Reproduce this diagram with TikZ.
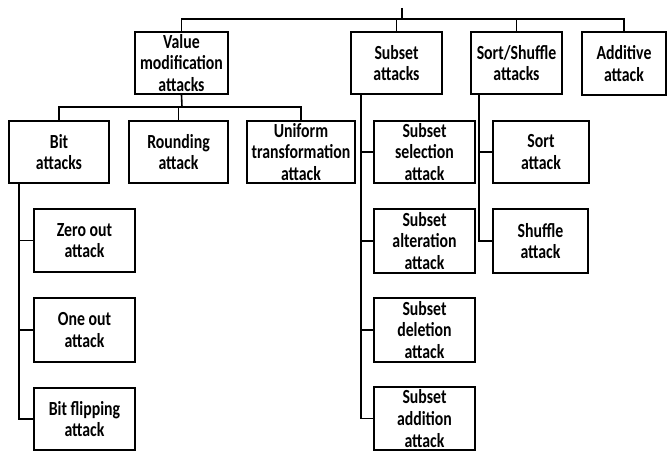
\documentclass[tikz,border=0pt]{standalone}
\usepackage{fontspec}
\setmainfont[FakeStretch=0.79]{Carlito}
\begin{document}
\begin{tikzpicture}[x=1pt,y=-1pt,
  box/.style={draw, line width=1.8pt, inner sep=0pt, align=center,
    font=\bfseries\fontsize{20}{21.7}\selectfont},
  conn/.style={line width=1.6pt}]
\useasboundingbox (0,0) rectangle (667,452);
% top level
\node[box, minimum width=93pt, minimum height=62pt] (vm) at (181.5,63) {Value\\modification\\attacks};
\node[box, minimum width=91pt, minimum height=62pt] (sub) at (396.5,63) {Subset\\attacks};
\node[box, minimum width=91pt, minimum height=62pt] (ss) at (516.5,63) {Sort/Shuffle\\attacks};
\node[box, minimum width=84pt, minimum height=63pt] (add) at (624,63.5) {Additive\\attack};
% value modification children
\node[box, minimum width=100pt, minimum height=62pt] (bit) at (59,152) {Bit\\attacks};
\node[box, minimum width=99pt, minimum height=62pt] (rnd) at (178.5,152) {Rounding\\attack};
\node[box, minimum width=108pt, minimum height=62pt] (uni) at (301,152) {Uniform\\transformation\\attack};
% bit children
\node[box, minimum width=101pt, minimum height=63pt] (zo) at (84.5,240.5) {Zero out\\attack};
\node[box, minimum width=101pt, minimum height=64pt] (oo) at (84.5,330) {One out\\attack};
\node[box, minimum width=101pt, minimum height=62pt] (bf) at (84.5,419) {Bit flipping\\attack};
% subset children
\node[box, minimum width=101pt, minimum height=62pt] (sel) at (424.5,152) {Subset\\selection\\attack};
\node[box, minimum width=101pt, minimum height=64pt] (alt) at (424.5,241) {Subset\\alteration\\attack};
\node[box, minimum width=101pt, minimum height=64pt] (del) at (424.5,330) {Subset\\deletion\\attack};
\node[box, minimum width=101pt, minimum height=63pt] (adn) at (424.5,418.5) {Subset\\addition\\attack};
% sort/shuffle children
\node[box, minimum width=96pt, minimum height=62pt] (srt) at (541,152) {Sort\\attack};
\node[box, minimum width=95pt, minimum height=64pt] (shf) at (540.5,241) {Shuffle\\attack};
% coordinates
\coordinate (root) at (402,8);
\coordinate (bar) at (402,19);
\coordinate (bar2) at (182,107);
\coordinate (bt) at (19,183);
\coordinate (st) at (361,94);
\coordinate (sst) at (479,94);
% connectors
\draw[conn] (root) -- (bar);
\draw[conn] (vm.north) |- (bar) -| (add.north);
\draw[conn] (sub.north) -- (sub.north |- bar);
\draw[conn] (ss.north) -- (ss.north |- bar);
\draw[conn] (vm.south) -- (bar2);
\draw[conn] (bit.north) |- (bar2) -| (uni.north);
\draw[conn] (rnd.north) -- (rnd.north |- bar2);
\draw[conn] (bt) |- (bf.west);
\draw[conn] (zo.west) -- (zo.west -| bt);
\draw[conn] (oo.west) -- (oo.west -| bt);
\draw[conn] (st) |- (adn.west);
\draw[conn] (sel.west) -- (sel.west -| st);
\draw[conn] (alt.west) -- (alt.west -| st);
\draw[conn] (del.west) -- (del.west -| st);
\draw[conn] (sst) |- (shf.west);
\draw[conn] (srt.west) -- (srt.west -| sst);
\end{tikzpicture}
\end{document}
